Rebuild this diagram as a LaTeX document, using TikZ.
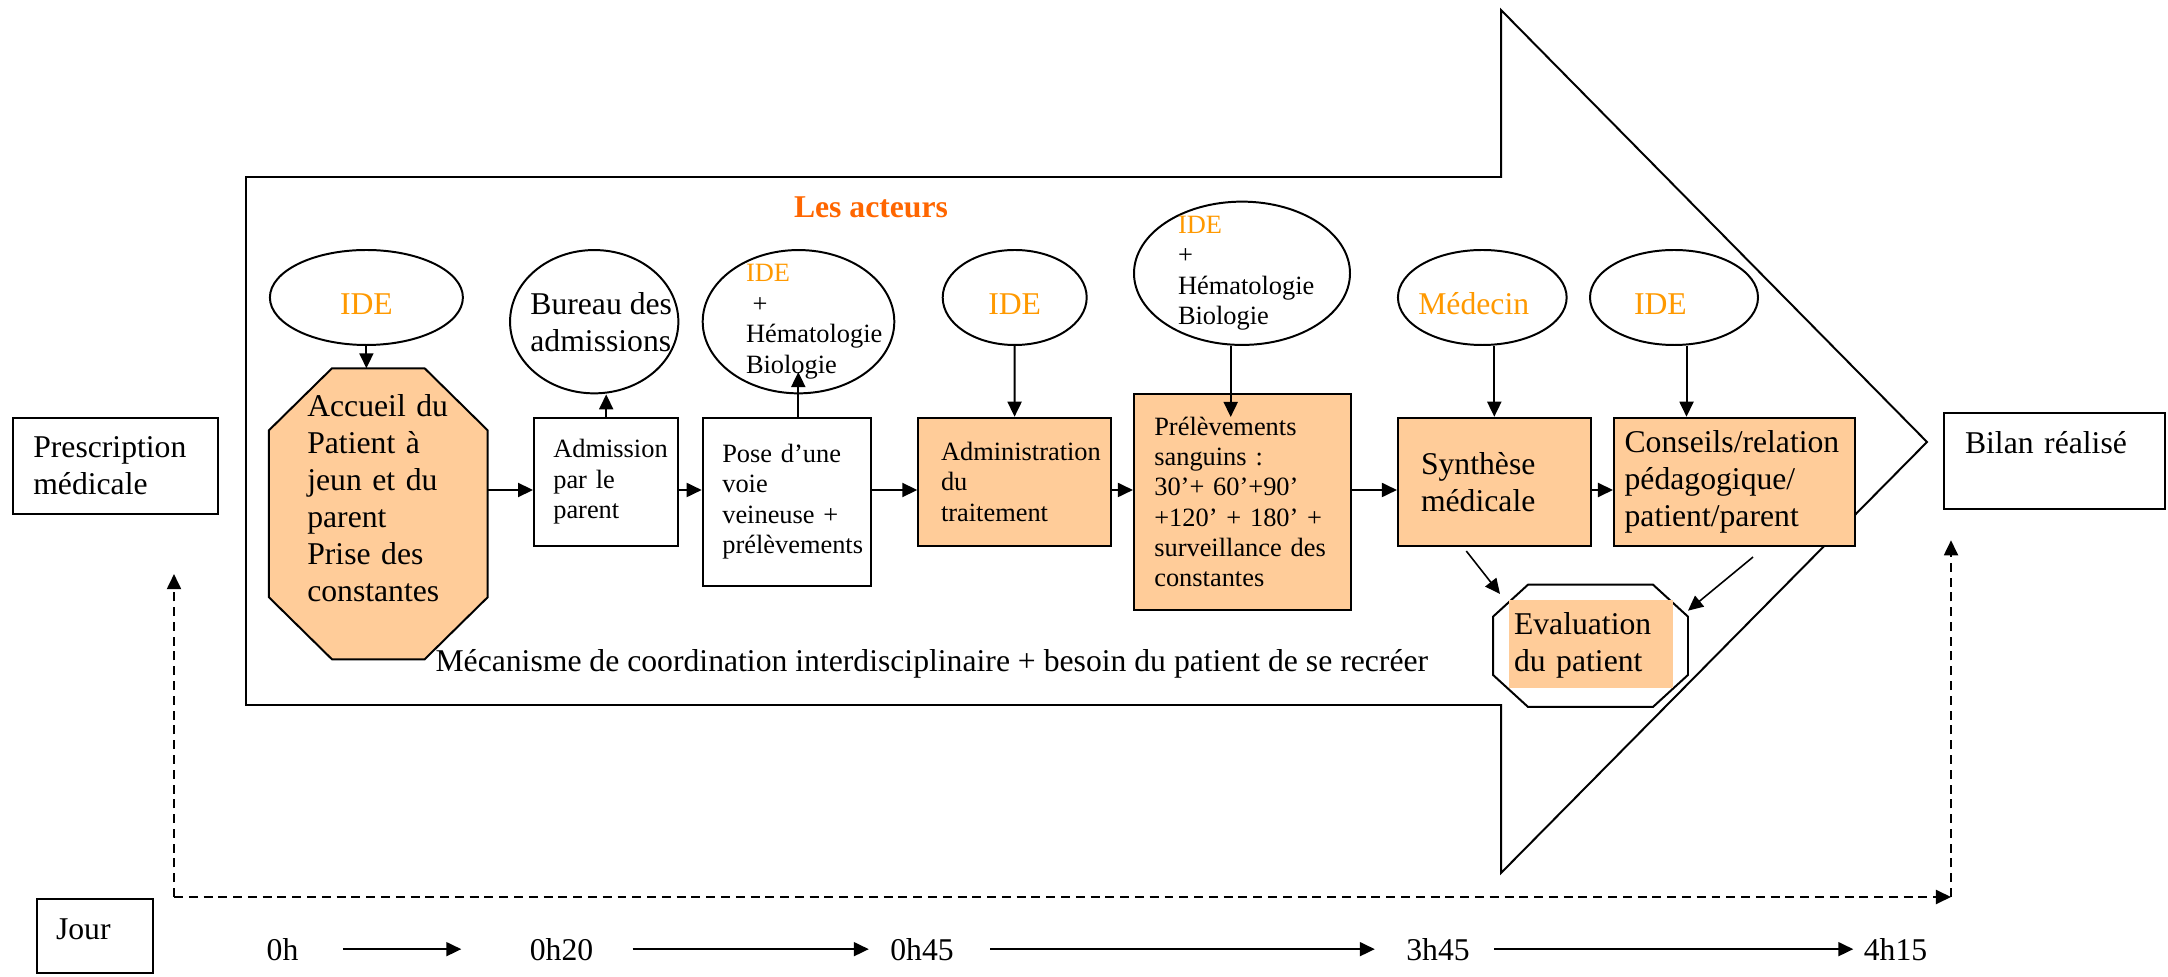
\documentclass[tikz,border=0pt]{standalone}
\usepackage{fontspec}
\setmainfont{Liberation Serif}
\usetikzlibrary{arrows.meta,shapes.geometric,calc,backgrounds}
\definecolor{peach}{HTML}{FFCC99}
\definecolor{ideorange}{HTML}{FF9900}
\definecolor{titleorange}{HTML}{FF6600}
\newlength{\dpx}\setlength{\dpx}{0.3788pt}
\newcommand{\fsbig}{\fontsize{12pt}{14pt}\selectfont}
\newcommand{\fssmall}{\fontsize{10pt}{11.5pt}\selectfont}
% octagon round a node: name, horizontal cut, vertical cut, fill
\newcommand{\octoframe}[4]{%
  \filldraw[octline, fill=#4] ($(#1.north west)+(#2,0)$) -- ($(#1.north east)+(-#2,0)$)
    -- ($(#1.north east)+(0,#3)$) -- ($(#1.south east)+(0,-#3)$)
    -- ($(#1.south east)+(-#2,0)$) -- ($(#1.south west)+(#2,0)$)
    -- ($(#1.south west)+(0,-#3)$) -- ($(#1.north west)+(0,#3)$) -- cycle;}
\tikzset{
  ovl/.style={ellipse, draw, line width=0.75pt, inner sep=0pt},
  actortxt/.style={font=\fsbig, text=ideorange, align=left, yshift=-2.5pt},
  hemtxt/.style={font=\fssmall, align=left},
  stepbox/.style={rectangle, draw, line width=0.75pt, inner sep=0pt, align=left, font=\fssmall},
  donebox/.style={stepbox, fill=peach},
  endbox/.style={rectangle, draw, line width=0.75pt, inner sep=0pt, align=left, font=\fsbig},
  octline/.style={draw, line width=0.75pt},
  tlabel/.style={font=\fsbig, anchor=base, inner sep=0pt},
  flow/.style={-{Triangle[length=5.7pt,width=5.3pt]}, line width=0.75pt},
  thinflow/.style={flow, line width=0.6pt},
  dashflow/.style={flow, dash pattern=on 3.4pt off 2.2pt}
}
\begin{document}
\begin{tikzpicture}[x=\dpx, y=-\dpx]
\useasboundingbox (0,0) rectangle (2168,977);
% the big arrow
\draw[octline] (246,177) -- (1501,177) -- (1501,10) -- (1927,442) -- (1501,873) -- (1501,705) -- (246,705) -- cycle;
\node[font=\fsbig\bfseries, text=titleorange, anchor=base] (acteurs) at (871,218) {Les acteurs};
% actors
\node[ovl, minimum width=193\dpx, minimum height=95\dpx, label={[actortxt]center:IDE}] (ide1) at (366.4,297.5) {};
\node[ovl, minimum width=168.3\dpx, minimum height=143.3\dpx, label={[font=\fsbig, align=left, xshift=7\dpx]center:{Bureau des\\admissions}}] (bureau) at (594.2,321.7) {};
\node[ovl, minimum width=191.6\dpx, minimum height=143.3\dpx, label={[hemtxt, text width=105\dpx]center:{\textcolor{ideorange}{IDE}\\\hspace*{.25em}+\\Hématologie\\Biologie}}] (hema1) at (798.5,321.7) {};
\node[ovl, minimum width=144\dpx, minimum height=95\dpx, label={[actortxt]center:IDE}] (ide2) at (1014.7,297.5) {};
\node[ovl, minimum width=216\dpx, minimum height=143.3\dpx, label={[hemtxt, text width=128\dpx]center:{\textcolor{ideorange}{IDE}\\+\\Hématologie\\Biologie}}] (hema2) at (1242,273.3) {};
\node[ovl, minimum width=168.7\dpx, minimum height=95\dpx, label={[actortxt, text width=128\dpx]center:Médecin}] (medecin) at (1482.3,297.5) {};
\node[ovl, minimum width=168\dpx, minimum height=95\dpx, label={[actortxt, text width=80\dpx]center:IDE}] (ide3) at (1674,297.5) {};
% steps
\node[endbox, minimum width=205\dpx, minimum height=96.3\dpx, text width=165\dpx] (prescr) at (115.8,465.9) {Prescription\\médicale};
\node[stepbox, draw=none, minimum width=216.7\dpx, minimum height=289\dpx, label={[font=\fsbig, align=left, text width=142\dpx, yshift=6pt]center:{Accueil du\\Patient à\\jeun et du\\parent\\Prise des\\constantes}}] (accueil) at (378.3,513.8) {};
\node[stepbox, minimum width=144.3\dpx, minimum height=128.3\dpx, text width=105.8\dpx] (admis) at (606.2,481.9) {Admission\\par le\\parent};
\node[stepbox, minimum width=168\dpx, minimum height=168.3\dpx, text width=128.8\dpx] (pose) at (786.7,501.8) {Pose d’une\\voie\\veineuse +\\prélèvements};
\node[donebox, minimum width=192.4\dpx, minimum height=128.3\dpx, text width=147\dpx] (admin) at (1014.5,481.9) {Administration\\du\\traitement};
\node[donebox, minimum width=216.7\dpx, minimum height=216\dpx, text width=176\dpx] (prelev) at (1242.3,502) {Prélèvements\\sanguins :\\30’+ 60’+90’\\+120’ + 180’ +\\surveillance des\\constantes};
\node[donebox, font=\fsbig, minimum width=192.7\dpx, minimum height=128.3\dpx, text width=146.6\dpx] (synth) at (1494.3,481.9) {Synthèse\\médicale};
\node[donebox, font=\fsbig, minimum width=241\dpx, minimum height=128.3\dpx, text width=219.8\dpx] (conseil) at (1734.5,481.9) {Conseils/relation\\pédagogique/\\patient/parent};
\node[stepbox, font=\fsbig, draw=none, minimum width=193\dpx, minimum height=120.3\dpx, text width=153\dpx] (evalu) at (1590.5,645.8) {Evaluation\\du patient};
\node[endbox, minimum width=221\dpx, minimum height=96\dpx, text width=179\dpx, text depth=14pt] (bilan) at (2054.5,461.3) {Bilan réalisé};
\node[font=\fsbig, anchor=base west, inner sep=0pt] (meca) at (435,671.7) {Mécanisme de coordination interdisciplinaire + besoin du patient de se recréer};
\begin{scope}[on background layer]
\octoframe{accueil}{63}{62}{peach}
\octoframe{evalu}{35}{32}{white}
\fill[peach] ($(evalu.north west)+(16,15.3)$) rectangle ($(evalu.south east)+(-15,-19.3)$);
\end{scope}
% actors to steps
\coordinate (biotip) at (798.3,372);
\coordinate (hemtip) at (1230.7,417);
\coordinate (ide3foot) at ($(ide3.south)+(12.5,0)$);
\draw[flow] (ide1) -- (ide1 |- accueil.north);
\draw[flow] (admis.north) -- (admis.north |- bureau.south);
\draw[flow] (pose.north -| biotip) -- (biotip);
\draw[flow] (ide2) -- (admin);
\draw[flow] (hema2.south -| hemtip) -- (hemtip);
\draw[flow] (medecin.south -| synth.north) -- (synth.north);
\draw[flow] (ide3foot) -- (ide3foot |- conseil.north);
% main row
\coordinate (row) at (0,490);
\draw[flow] (accueil.east |- row) -- (admis.west |- row);\draw[flow] (admis.east |- row) -- (pose.west |- row);
\draw[flow] (pose.east |- row) -- (admin.west |- row);\draw[flow] (admin.east |- row) -- (prelev.west |- row);
\draw[flow] (prelev.east |- row) -- (synth.west |- row);\draw[flow] (synth.east |- row) -- (conseil.west |- row);
\draw[thinflow] ($(synth.south)+(-28,4)$) -- ($(evalu.north west)+(7,9.3)$);
\draw[thinflow] ($(conseil.south)+(18.5,10)$) -- ($(evalu.north east)+(0,26)$);
% time line
\coordinate (dl) at (174,897);
\coordinate (dr) at (1951,897);
\draw[dashflow] (dl) -- (dr);
\draw[dashflow, shorten >=59\dpx] (dl) -- (dl |- prescr.south);
\draw[dashflow, shorten >=30\dpx] (dr) -- (dr |- bilan.south);
\node[endbox, minimum width=116.5\dpx, minimum height=74\dpx, text width=77.5\dpx, text depth=5pt] (jour) at (94.8,936) {Jour};
\node[tlabel] (t0) at (282.5,960) {0h};
\node[tlabel] (t1) at (561.5,960) {0h20};
\node[tlabel] (t2) at (922,960) {0h45};
\node[tlabel] (t3) at (1438,960) {3h45};
\node[tlabel] (t4) at (1895.5,960) {4h15};
\draw[flow, shorten <=44\dpx, shorten >=68\dpx] (t0.east) -- (t1.west);
\draw[flow, shorten <=39\dpx, shorten >=21\dpx] (t1.east) -- (t2.west);
\draw[flow, shorten <=36\dpx, shorten >=31\dpx] (t2.east) -- (t3.west);
\draw[flow, shorten <=24\dpx, shorten >=10\dpx] (t3.east) -- (t4.west);
\end{tikzpicture}
\end{document}
